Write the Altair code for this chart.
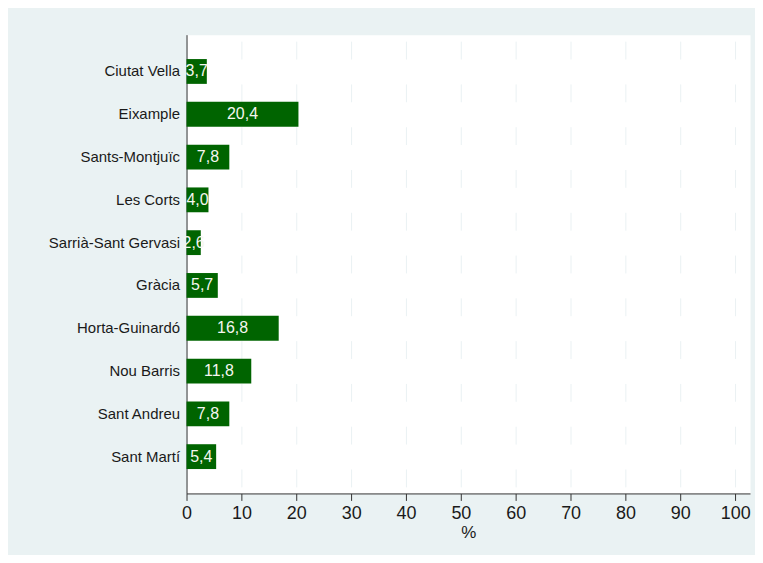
import altair as alt
import pandas as pd

districts = ["Ciutat Vella", "Eixample", "Sants-Montjuïc", "Les Corts",
             "Sarrià-Sant Gervasi", "Gràcia", "Horta-Guinardó", "Nou Barris",
             "Sant Andreu", "Sant Martí"]
values = [3.7, 20.4, 7.8, 4.0, 2.6, 5.7, 16.8, 11.8, 7.8, 5.4]
labels = ["3,7", "20,4", "7,8", "4,0", "2,6", "5,7", "16,8", "11,8", "7,8", "5,4"]
ticks = [0, 10, 20, 30, 40, 50, 60, 70, 80, 90, 100]

df = pd.DataFrame({"district": districts, "value": values, "label": labels})

FONT = "Liberation Sans"
x_scale = alt.Scale(domain=[0, 102.7], nice=False, zero=True)
y_scale = alt.Scale(domain=districts, paddingInner=0.42, paddingOuter=0.57)

bars = alt.Chart(df).mark_bar(color="#006400").encode(
    x=alt.X("value:Q", scale=x_scale,
            axis=alt.Axis(values=ticks, title="%", titleFontSize=17, titleFontWeight="normal",
                          titleFont=FONT, titleColor="#1a1a1a", titlePadding=2,
                          labelFont=FONT, labelFontSize=18, labelColor="#1a1a1a",
                          labelPadding=4, tickSize=7, tickColor="#333333",
                          domainColor="#333333", labelFlush=False,
                          grid=True, gridColor="#eaf1f3", gridWidth=1,
                          gridDash=[17.9, 25], gridDashOffset=36.3)),
    y=alt.Y("district:N", scale=y_scale, sort=districts,
            axis=alt.Axis(title=None, ticks=False, labelFont=FONT, labelFontSize=15,
                          labelColor="#1a1a1a", labelPadding=7, domainColor="#333333",
                          grid=False)),
)

text = alt.Chart(df).transform_calculate(mid="datum.value / 2").mark_text(
    color="#f6f6f0", fontSize=16, font=FONT, baseline="middle", align="center"
).encode(
    x=alt.X("mid:Q", scale=x_scale),
    y=alt.Y("district:N", scale=y_scale, sort=districts),
    text="label:N",
)

chart = (bars + text).properties(
    width=565, height=460,
    autosize=alt.AutoSizeParams(type="none"),
    padding={"left": 179, "top": 26, "right": 5, "bottom": 61},
    background="#eaf2f3",
).configure_view(fill="white", stroke="transparent")

chart.save("out.html", embed_options={"renderer": "svg", "actions": False})
